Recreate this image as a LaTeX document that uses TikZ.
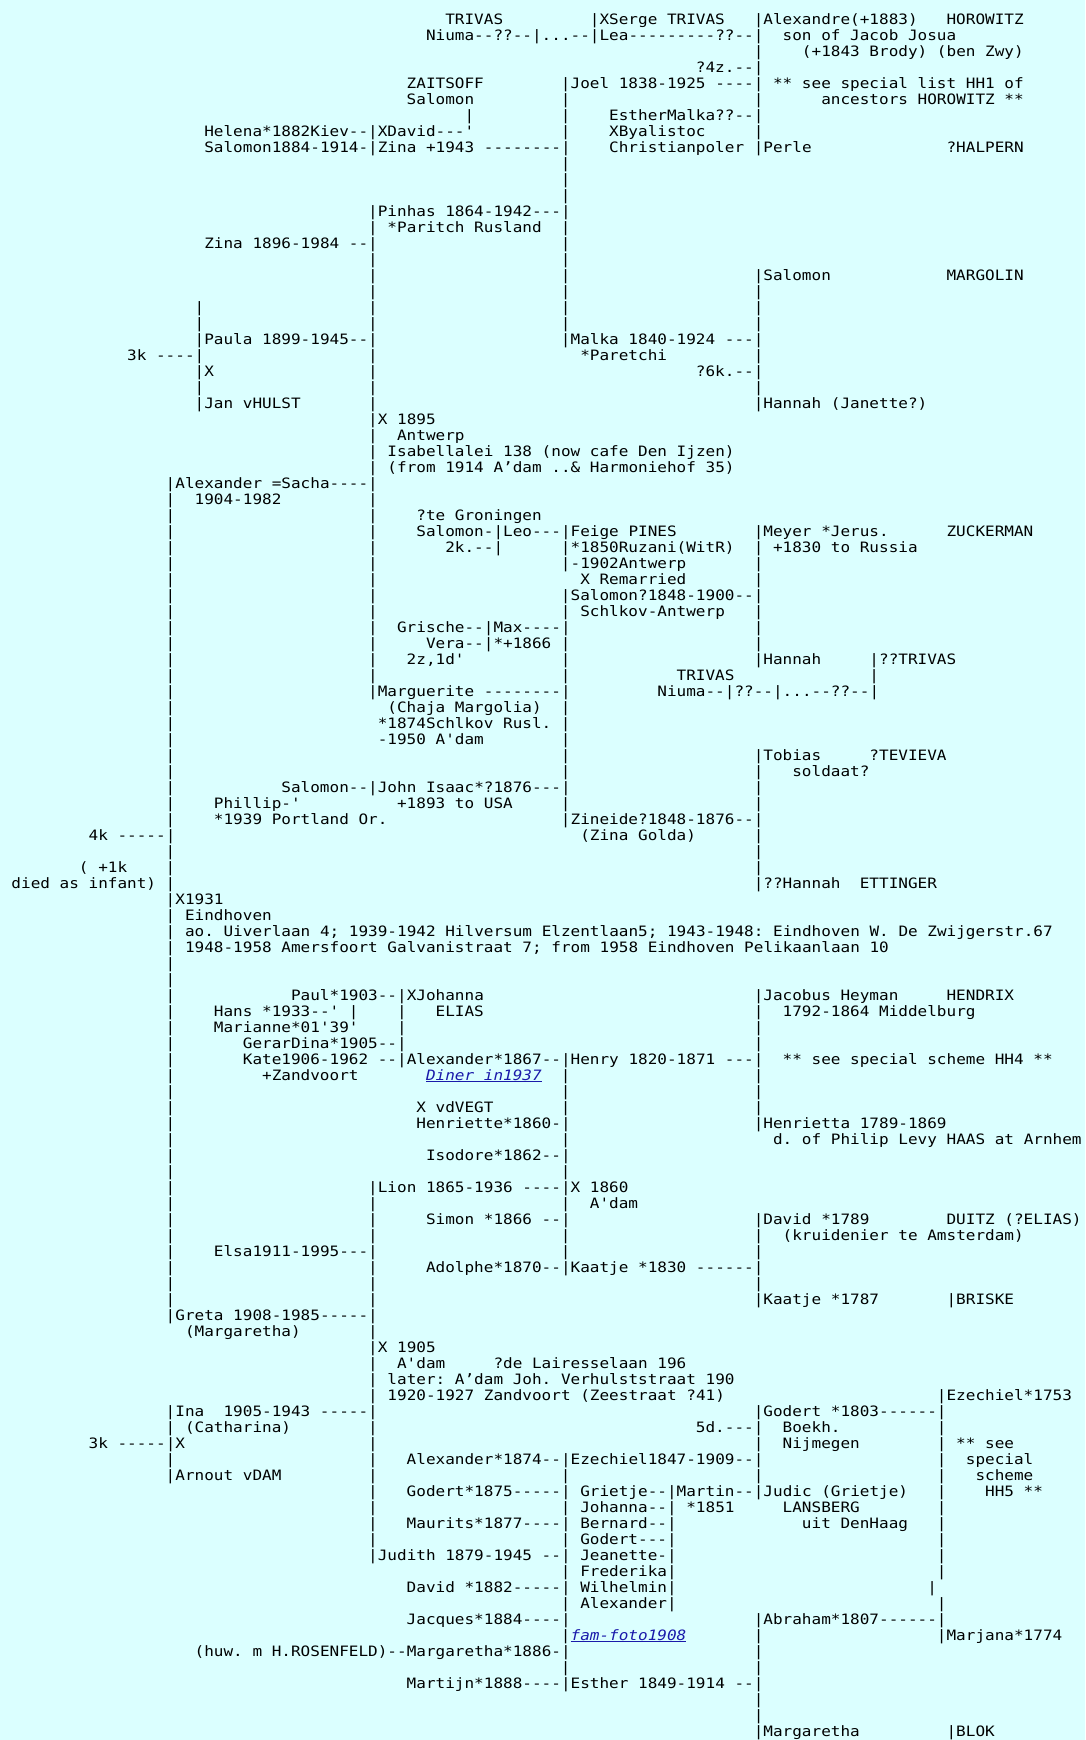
\documentclass[tikz,border=0pt]{standalone}
\usepackage{fontspec}
\setmonofont[FakeStretch=1.12]{DejaVu Sans Mono}
\definecolor{bgcol}{RGB}{219,255,255}
\definecolor{linkblue}{RGB}{26,26,170}
\newcount\tnum
\newcommand\Trow[3]{\global\advance\tnum by 1\relax
  \node[txt] (t\the\tnum) at ({11.5+9.64*#2},{-(24+16*#1)}) {#3};}
\newcommand\Tlink[3]{\global\advance\tnum by 1\relax
  \node[txt,text=linkblue,font=\monotxt\itshape] (t\the\tnum) at ({11.5+9.64*#2},{-(24+16*#1)}) {\underline{#3}};}
\newcommand\monotxt{\ttfamily\fontsize{14.3pt}{16pt}\selectfont\frenchspacing}
\tikzset{txt/.style={anchor=base west,inner sep=0pt,outer sep=0pt,font=\monotxt,text=black}}
\begin{document}
\begin{tikzpicture}[x=1pt,y=1pt]
\useasboundingbox (0,0) rectangle (1085,-1740);
\fill[bgcol] (0,0) rectangle (1085,-1740);
% row 0-8
\Trow{0}{45}{TRIVAS}\Trow{0}{60}{|XSerge TRIVAS}\Trow{0}{77}{|Alexandre(+1883)}\Trow{0}{97}{HOROWITZ}
\Trow{1}{43}{Niuma--??--|...--|Lea---------??--|}\Trow{1}{80}{son of Jacob Josua}
\Trow{2}{77}{|}\Trow{2}{82}{(+1843 Brody) (ben Zwy)}
\Trow{3}{71}{?4z.--|}
\Trow{4}{41}{ZAITSOFF}\Trow{4}{57}{|Joel 1838-1925 ----|}\Trow{4}{79}{** see special list HH1 of}
\Trow{5}{41}{Salomon}\Trow{5}{57}{|}\Trow{5}{77}{|}\Trow{5}{84}{ancestors HOROWITZ **}
\Trow{6}{47}{|}\Trow{6}{57}{|}\Trow{6}{62}{EstherMalka??--|}
\Trow{7}{20}{Helena*1882Kiev--|XDavid---'}\Trow{7}{57}{|}\Trow{7}{62}{XByalistoc}\Trow{7}{77}{|}
\Trow{8}{20}{Salomon1884-1914-|Zina +1943 --------|}\Trow{8}{62}{Christianpoler |Perle}\Trow{8}{97}{?HALPERN}
\Trow{9}{57}{|}\Trow{10}{57}{|}\Trow{11}{57}{|}
\Trow{12}{37}{|Pinhas 1864-1942---|}
\Trow{13}{37}{| *Paritch Rusland}\Trow{13}{57}{|}
\Trow{14}{20}{Zina 1896-1984 --|}\Trow{14}{57}{|}
\Trow{15}{37}{|}\Trow{15}{57}{|}
\Trow{16}{37}{|}\Trow{16}{57}{|}\Trow{16}{77}{|Salomon}\Trow{16}{97}{MARGOLIN}
\Trow{17}{37}{|}\Trow{17}{57}{|}\Trow{17}{77}{|}
\Trow{18}{19}{|}\Trow{18}{37}{|}\Trow{18}{57}{|}\Trow{18}{77}{|}
\Trow{19}{19}{|}\Trow{19}{37}{|}\Trow{19}{57}{|}\Trow{19}{77}{|}
\Trow{20}{19}{|Paula 1899-1945--|}\Trow{20}{57}{|Malka 1840-1924 ---|}
\Trow{21}{12}{3k ----|}\Trow{21}{37}{|}\Trow{21}{59}{*Paretchi}\Trow{21}{77}{|}
\Trow{22}{19}{|X}\Trow{22}{37}{|}\Trow{22}{71}{?6k.--|}
\Trow{23}{19}{|}\Trow{23}{37}{|}\Trow{23}{77}{|}
\Trow{24}{19}{|Jan vHULST}\Trow{24}{37}{|}\Trow{24}{77}{|Hannah (Janette?)}
\Trow{25}{37}{|X 1895}
\Trow{26}{37}{|}\Trow{26}{40}{Antwerp}
\Trow{27}{37}{| Isabellalei 138 (now cafe Den Ijzen)}
\Trow{28}{37}{| (from 1914 A’dam ..\& Harmoniehof 35)}
\Trow{29}{16}{|Alexander =Sacha----|}
\Trow{30}{16}{|}\Trow{30}{19}{1904-1982}\Trow{30}{37}{|}
\Trow{31}{16}{|}\Trow{31}{37}{|}\Trow{31}{42}{?te Groningen}
\Trow{32}{16}{|}\Trow{32}{37}{|}\Trow{32}{42}{Salomon-|Leo---|Feige PINES}\Trow{32}{77}{|Meyer *Jerus.}\Trow{32}{97}{ZUCKERMAN}
\Trow{33}{16}{|}\Trow{33}{37}{|}\Trow{33}{45}{2k.--|}\Trow{33}{57}{|*1850Ruzani(WitR)}\Trow{33}{77}{| +1830 to Russia}
\Trow{34}{16}{|}\Trow{34}{37}{|}\Trow{34}{57}{|-1902Antwerp}\Trow{34}{77}{|}
\Trow{35}{16}{|}\Trow{35}{37}{|}\Trow{35}{59}{X Remarried}\Trow{35}{77}{|}
\Trow{36}{16}{|}\Trow{36}{37}{|}\Trow{36}{57}{|Salomon?1848-1900--|}
\Trow{37}{16}{|}\Trow{37}{37}{|}\Trow{37}{57}{| Schlkov-Antwerp}\Trow{37}{77}{|}
\Trow{38}{16}{|}\Trow{38}{37}{|}\Trow{38}{40}{Grische--|Max----|}\Trow{38}{77}{|}
\Trow{39}{16}{|}\Trow{39}{37}{|}\Trow{39}{43}{Vera--|*+1866}\Trow{39}{57}{|}\Trow{39}{77}{|}
\Trow{40}{16}{|}\Trow{40}{37}{|}\Trow{40}{41}{2z,1d'}\Trow{40}{57}{|}\Trow{40}{77}{|Hannah}\Trow{40}{89}{|??TRIVAS}
\Trow{41}{16}{|}\Trow{41}{37}{|}\Trow{41}{57}{|}\Trow{41}{69}{TRIVAS}\Trow{41}{89}{|}
\Trow{42}{16}{|}\Trow{42}{37}{|Marguerite --------|}\Trow{42}{67}{Niuma--|??--|...--??--|}
\Trow{43}{16}{|}\Trow{43}{39}{(Chaja Margolia)}\Trow{43}{57}{|}
\Trow{44}{16}{|}\Trow{44}{38}{*1874Schlkov Rusl.}\Trow{44}{57}{|}
\Trow{45}{16}{|}\Trow{45}{38}{-1950 A'dam}\Trow{45}{57}{|}
\Trow{46}{16}{|}\Trow{46}{57}{|}\Trow{46}{77}{|Tobias}\Trow{46}{89}{?TEVIEVA}
\Trow{47}{16}{|}\Trow{47}{57}{|}\Trow{47}{77}{|}\Trow{47}{81}{soldaat?}
\Trow{48}{16}{|}\Trow{48}{28}{Salomon--|John Isaac*?1876---|}\Trow{48}{77}{|}
\Trow{49}{16}{|}\Trow{49}{21}{Phillip-'}\Trow{49}{40}{+1893 to USA}\Trow{49}{57}{|}\Trow{49}{77}{|}
\Trow{50}{16}{|}\Trow{50}{21}{*1939 Portland Or.}\Trow{50}{57}{|Zineide?1848-1876--|}
\Trow{51}{8}{4k -----|}\Trow{51}{59}{(Zina Golda)}\Trow{51}{77}{|}
\Trow{52}{16}{|}\Trow{52}{77}{|}
\Trow{53}{7}{( +1k}\Trow{53}{16}{|}\Trow{53}{77}{|}
\Trow{54}{0}{died as infant)}\Trow{54}{16}{|}\Trow{54}{77}{|??Hannah}\Trow{54}{88}{ETTINGER}
\Trow{55}{16}{|X1931}
\Trow{56}{16}{| Eindhoven}
\Trow{57}{16}{| ao. Uiverlaan 4; 1939-1942 Hilversum Elzentlaan5; 1943-1948: Eindhoven W. De Zwijgerstr.67}
\Trow{58}{16}{| 1948-1958 Amersfoort Galvanistraat 7; from 1958 Eindhoven Pelikaanlaan 10}
\Trow{59}{16}{|}\Trow{60}{16}{|}
\Trow{61}{16}{|}\Trow{61}{29}{Paul*1903--|XJohanna}\Trow{61}{77}{|Jacobus Heyman}\Trow{61}{97}{HENDRIX}
\Trow{62}{16}{|}\Trow{62}{21}{Hans *1933--' |}\Trow{62}{40}{|}\Trow{62}{44}{ELIAS}\Trow{62}{77}{|}\Trow{62}{80}{1792-1864 Middelburg}
\Trow{63}{16}{|}\Trow{63}{21}{Marianne*01'39'}\Trow{63}{40}{|}\Trow{63}{77}{|}
\Trow{64}{16}{|}\Trow{64}{24}{GerarDina*1905--|}\Trow{64}{77}{|}
\Trow{65}{16}{|}\Trow{65}{24}{Kate1906-1962 --|Alexander*1867--|Henry 1820-1871 ---|}\Trow{65}{80}{** see special scheme HH4 **}
\Trow{66}{16}{|}\Trow{66}{26}{+Zandvoort}\Tlink{66}{43}{Diner in1937}\Trow{66}{57}{|}\Trow{66}{77}{|}
\Trow{67}{16}{|}\Trow{67}{57}{|}\Trow{67}{77}{|}
\Trow{68}{16}{|}\Trow{68}{42}{X vdVEGT}\Trow{68}{57}{|}\Trow{68}{77}{|}
\Trow{69}{16}{|}\Trow{69}{42}{Henriette*1860-|}\Trow{69}{77}{|Henrietta 1789-1869}
\Trow{70}{16}{|}\Trow{70}{57}{|}\Trow{70}{79}{d. of Philip Levy HAAS at Arnhem}
\Trow{71}{16}{|}\Trow{71}{43}{Isodore*1862--|}
\Trow{72}{16}{|}\Trow{72}{57}{|}
\Trow{73}{16}{|}\Trow{73}{37}{|Lion 1865-1936 ----|X 1860}
\Trow{74}{16}{|}\Trow{74}{37}{|}\Trow{74}{57}{|}\Trow{74}{60}{A'dam}
\Trow{75}{16}{|}\Trow{75}{37}{|}\Trow{75}{43}{Simon *1866 --|}\Trow{75}{77}{|David *1789}\Trow{75}{97}{DUITZ (?ELIAS)}
\Trow{76}{16}{|}\Trow{76}{37}{|}\Trow{76}{57}{|}\Trow{76}{77}{|}\Trow{76}{80}{(kruidenier te Amsterdam)}
\Trow{77}{16}{|}\Trow{77}{21}{Elsa1911-1995---|}\Trow{77}{57}{|}\Trow{77}{77}{|}
\Trow{78}{16}{|}\Trow{78}{37}{|}\Trow{78}{43}{Adolphe*1870--|Kaatje *1830 ------|}
\Trow{79}{16}{|}\Trow{79}{37}{|}\Trow{79}{77}{|}
\Trow{80}{16}{|}\Trow{80}{37}{|}\Trow{80}{77}{|Kaatje *1787}\Trow{80}{97}{|BRISKE}
\Trow{81}{16}{|Greta 1908-1985-----|}
\Trow{82}{18}{(Margaretha)}\Trow{82}{37}{|}
\Trow{83}{37}{|X 1905}
\Trow{84}{37}{|}\Trow{84}{40}{A'dam}\Trow{84}{50}{?de Lairesselaan 196}
\Trow{85}{37}{| later: A’dam Joh. Verhulststraat 190}
\Trow{86}{37}{| 1920-1927 Zandvoort (Zeestraat ?41)}\Trow{86}{96}{|Ezechiel*1753}
\Trow{87}{16}{|Ina}\Trow{87}{22}{1905-1943 -----|}\Trow{87}{77}{|Godert *1803------|}
\Trow{88}{16}{| (Catharina)}\Trow{88}{37}{|}\Trow{88}{71}{5d.---|}\Trow{88}{80}{Boekh.}\Trow{88}{96}{|}
\Trow{89}{8}{3k -----|X}\Trow{89}{37}{|}\Trow{89}{77}{|}\Trow{89}{80}{Nijmegen}\Trow{89}{96}{|}\Trow{89}{98}{** see}
\Trow{90}{16}{|}\Trow{90}{37}{|}\Trow{90}{41}{Alexander*1874--|Ezechiel1847-1909--|}\Trow{90}{96}{|}\Trow{90}{99}{special}
\Trow{91}{16}{|Arnout vDAM}\Trow{91}{37}{|}\Trow{91}{57}{|}\Trow{91}{77}{|}\Trow{91}{96}{|}\Trow{91}{100}{scheme}
\Trow{92}{37}{|}\Trow{92}{41}{Godert*1875-----| Grietje--|Martin--|Judic (Grietje)}\Trow{92}{96}{|}\Trow{92}{101}{HH5 **}
\Trow{93}{37}{|}\Trow{93}{57}{| Johanna--| *1851}\Trow{93}{80}{LANSBERG}\Trow{93}{96}{|}
\Trow{94}{37}{|}\Trow{94}{41}{Maurits*1877----| Bernard--|}\Trow{94}{82}{uit DenHaag}\Trow{94}{96}{|}
\Trow{95}{37}{|}\Trow{95}{57}{| Godert---|}\Trow{95}{96}{|}
\Trow{96}{37}{|Judith 1879-1945 --| Jeanette-|}\Trow{96}{96}{|}
\Trow{97}{57}{| Frederika|}\Trow{97}{96}{|}
\Trow{98}{41}{David *1882-----| Wilhelmin|}\Trow{98}{95}{|}
\Trow{99}{57}{| Alexander|}\Trow{99}{96}{|}
\Trow{100}{41}{Jacques*1884----|}\Trow{100}{77}{|Abraham*1807------|}
\Trow{101}{57}{|}\Tlink{101}{58}{fam-foto1908}\Trow{101}{77}{|}\Trow{101}{96}{|Marjana*1774}
\Trow{102}{19}{(huw. m H.ROSENFELD)--Margaretha*1886-|}\Trow{102}{77}{|}
\Trow{103}{57}{|}\Trow{103}{77}{|}
\Trow{104}{41}{Martijn*1888----|Esther 1849-1914 --|}
\Trow{105}{77}{|}\Trow{106}{77}{|}
\Trow{107}{77}{|Margaretha}\Trow{107}{97}{|BLOK}
\end{tikzpicture}
\end{document}
